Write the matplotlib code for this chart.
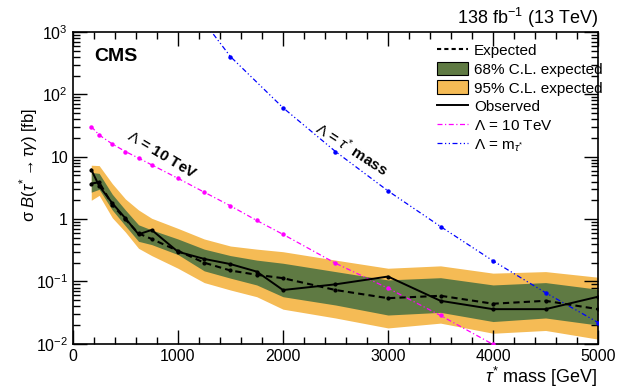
import numpy as np
import matplotlib
matplotlib.use("Agg")
import matplotlib.pyplot as plt
from matplotlib.ticker import MultipleLocator, LogLocator, NullFormatter
from matplotlib.patches import Patch
from matplotlib.lines import Line2D

plt.rcParams['font.family'] = ['Liberation Sans', 'DejaVu Sans']
plt.rcParams['mathtext.fontset'] = 'custom'
plt.rcParams['mathtext.rm'] = 'Liberation Sans'
plt.rcParams['mathtext.it'] = 'Liberation Sans:italic'
plt.rcParams['mathtext.bf'] = 'Liberation Sans:bold'

# tau* mass points [GeV]
mass = [175, 250, 375, 500, 625, 750, 1000, 1250, 1500, 1750, 2000, 2500, 3000, 3500, 4000, 4500, 5000]
observed = [6.2, 3.4, 1.8, 1.03, 0.57, 0.67, 0.30, 0.23, 0.19, 0.144, 0.073, 0.090, 0.12, 0.049, 0.036, 0.036, 0.057]
expected = [3.7, 3.9, 1.7, 0.99, 0.59, 0.48, 0.31, 0.20, 0.15, 0.128, 0.113, 0.073, 0.054, 0.059, 0.044, 0.049, 0.036]
band68_hi = [5.6, 5.4, 2.5, 1.4, 0.81, 0.67, 0.48, 0.33, 0.26, 0.22, 0.196, 0.144, 0.106, 0.115, 0.088, 0.096, 0.075]
band68_lo = [2.7, 3.0, 1.4, 0.78, 0.44, 0.39, 0.27, 0.148, 0.113, 0.088, 0.057, 0.042, 0.029, 0.032, 0.0228, 0.026, 0.020]
band95_hi = [7.3, 7.2, 3.7, 2.1, 1.4, 1.03, 0.71, 0.48, 0.37, 0.33, 0.30, 0.22, 0.163, 0.178, 0.136, 0.144, 0.117]
band95_lo = [2.0, 2.4, 1.05, 0.62, 0.34, 0.26, 0.163, 0.096, 0.073, 0.057, 0.036, 0.026, 0.018, 0.0215, 0.0148, 0.0164, 0.0119]

# theory curves
mass_l10 = [175, 250, 375, 500, 625, 750, 1000, 1250, 1500, 1750, 2000, 2500, 3000, 3500, 4000]
xsec_l10 = [30.4, 22.3, 16.0, 12.1, 9.5, 7.4, 4.5, 2.7, 1.63, 0.95, 0.57, 0.196, 0.078, 0.0285, 0.0098]
mass_lm = [1250, 1500, 2000, 2500, 3000, 3500, 4000, 4500, 5000]
xsec_lm = [1430, 402, 61, 12.1, 2.83, 0.76, 0.214, 0.066, 0.022]

green = '#5f7a43'
yellow = '#f5bb55'

fig = plt.figure(figsize=(6.23, 3.89), dpi=100)
ax = fig.add_axes([0.117, 0.116, 0.843, 0.802])

ax.fill_between(mass, band95_lo, band95_hi, color=yellow, lw=0, zorder=1)
ax.fill_between(mass, band68_lo, band68_hi, color=green, lw=0, zorder=2)
ax.plot(mass, expected, color='black', ls=(0, (3, 2)), lw=1.5, marker='o', ms=2, zorder=4)
ax.plot(mass, observed, color='black', ls='-', lw=1.4, marker='o', ms=2, zorder=5)
ax.plot(mass_l10, xsec_l10, color='#ff00ff', ls=(0, (4, 2, 1, 2)), lw=0.9, marker='o', ms=2.2, zorder=3)
ax.plot(mass_lm, xsec_lm, color='#0000ff', ls=(0, (4, 2, 1, 2, 1, 2)), lw=0.9, marker='o', ms=2.2, zorder=3)

ax.set_yscale('log')
ax.set_xlim(0, 5000)
ax.set_ylim(1e-2, 1e3)

ax.xaxis.set_major_locator(MultipleLocator(1000))
ax.xaxis.set_minor_locator(MultipleLocator(200))
ax.yaxis.set_minor_locator(LogLocator(base=10, subs=np.arange(2, 10), numticks=20))
ax.yaxis.set_minor_formatter(NullFormatter())
ylabels = {1e-2: r'$10^{-2}$', 1e-1: r'$10^{-1}$', 1: '1', 10: '10', 100: r'$10^{2}$', 1000: r'$10^{3}$'}
ax.set_yticks(list(ylabels.keys()))
ax.set_yticklabels(list(ylabels.values()))

ax.tick_params(which='both', direction='in', top=True, right=True, labelsize=11.5)
ax.tick_params(which='major', length=10, width=1)
ax.tick_params(which='minor', length=5, width=1)
ax.tick_params(axis='x', pad=4)
for s in ax.spines.values():
    s.set_linewidth(1.2)

ax.set_xlabel(r'$\tau^{*}$ mass [GeV]', fontsize=13, loc='right', labelpad=0)
ax.set_ylabel(r'σ $B(\tau^{*} \rightarrow \tau\gamma)$ [fb]', fontsize=12)
ax.yaxis.set_label_coords(-0.063, 0.574)

ax.text(0.04, 0.92, 'CMS', transform=ax.transAxes, fontsize=14, fontweight='bold', va='center')
fig.text(0.960, 0.955, r'138 fb$^{-1}$ (13 TeV)', ha='right', va='center', fontsize=13)

ax.text(850, 10.7, r'$\Lambda$ = 10 TeV', rotation=-31, fontsize=11, fontweight='bold',
        ha='center', va='center', rotation_mode='anchor')
ax.text(2654, 13.2, r'$\Lambda$ = $\tau^{*}$ mass', rotation=-33, fontsize=11, fontweight='bold',
        ha='center', va='center', rotation_mode='anchor')

handles = [
    Line2D([], [], color='black', ls=(0, (2, 1.5)), lw=1.5),
    Patch(facecolor=green, edgecolor='black', lw=0.8),
    Patch(facecolor=yellow, edgecolor='black', lw=0.8),
    Line2D([], [], color='black', ls='-', lw=1.4),
    Line2D([], [], color='#ff00ff', ls=(0, (4, 2, 1, 2)), lw=0.9),
    Line2D([], [], color='#0000ff', ls=(0, (4, 2, 1, 2, 1, 2)), lw=0.9),
]
labels = ['Expected', '68% C.L. expected', '95% C.L. expected', 'Observed',
          r'$\Lambda$ = 10 TeV', r'$\Lambda$ = m$_{\tau^{*}}$']
ax.legend(handles, labels, loc='upper right', bbox_to_anchor=(1.02, 0.985), frameon=False,
          fontsize=11, handlelength=2.0, handleheight=1.0, labelspacing=0.25,
          handletextpad=0.4, borderaxespad=0)

fig.savefig('out.png', dpi=100)
